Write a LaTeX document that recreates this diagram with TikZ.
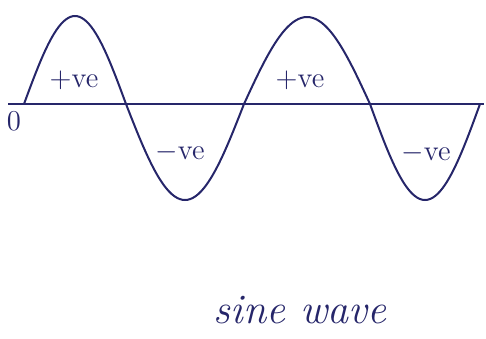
\documentclass[tikz,border=0pt]{standalone}
\usepackage{tikz}
\usetikzlibrary{positioning}
\definecolor{inkblue}{HTML}{26266A}
\tikzset{
  axisline/.style={line width=1.4pt, inkblue},
  waveline/.style={line width=1pt, inkblue, smooth},
  sign/.style={font=\Large, text=inkblue, inner sep=1pt},
  caption/.style={font=\fontsize{21}{25}\selectfont\itshape, text=inkblue},
}
\begin{document}
\begin{tikzpicture}[x=0.5pt, y=-0.5pt]
    \useasboundingbox (0,0) rectangle (486,338);

    % time axis
    \coordinate (start) at (8,104);
    \coordinate (stop) at (484,104);
    \draw[axisline] (start) -- (stop);

    % the four half waves: from, to, amplitude
    \foreach \xa/\xb/\am in {24/126/88, 126/244/-96, 244/370/87, 370/480/-96}
      \draw[waveline] plot[domain=0:1, samples=45] ({\xa+(\xb-\xa)*\x}, {104-\am*sin(180*\x)});

    \node[sign] (origin) at (14,121) {0};
    \node[sign] (pos1) at (74,80) {+ve};
    \node[sign] (neg1) at (180,152) {$-$ve};
    \node[sign] (pos2) at (300,80) {+ve};
    \node[sign] (neg2) at (426,153) {$-$ve};

    \node[caption] (title) at (300,310) {sine wave};
  \end{tikzpicture}
\end{document}
